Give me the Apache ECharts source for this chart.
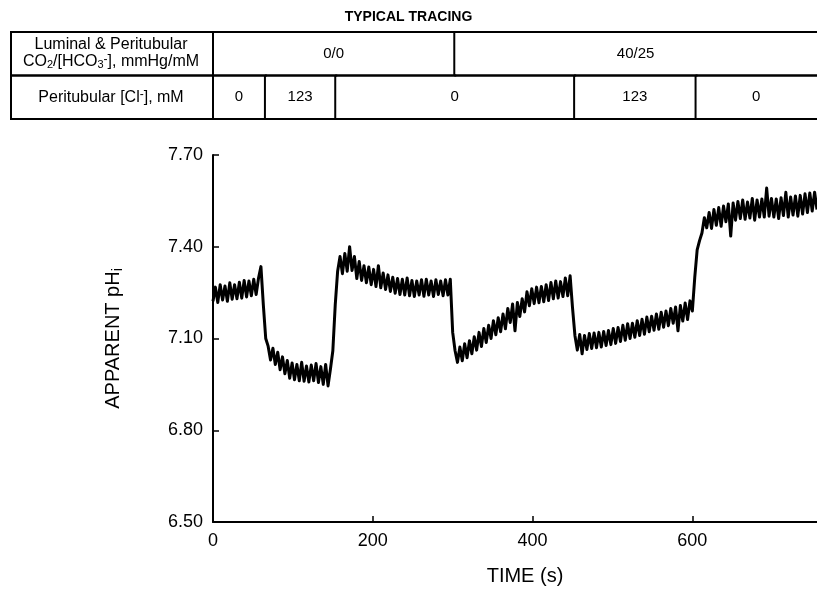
<!DOCTYPE html>
<html>
<head>
<meta charset="utf-8">
<title>Typical tracing</title>
<script src="https://cdn.jsdelivr.net/npm/echarts@6/dist/echarts.min.js"></script>
<style>
  html, body { margin: 0; padding: 0; background: #fff; }
  #main { width: 817px; height: 589px; }
</style>
</head>
<body>
<div id="main"></div>
<script>
// axis ticks
var xTicks = [0, 200, 400, 600];
var yTicks = [6.5, 6.8, 7.1, 7.4, 7.7];
var timeMax = 756;
var sampleStep = 3; // seconds between trace samples

// apparent pHi read off the tracing (upper and lower edge of the noise band
// alternately), one value every 3 s starting at 0 s
var phTrace = [
  // 0 - 57 s
  7.222, 7.268, 7.218, 7.276, 7.226, 7.272, 7.222, 7.282, 7.228, 7.276,
  7.230, 7.284, 7.232, 7.290, 7.236, 7.288, 7.240, 7.294, 7.244, 7.298,
  // 60 - 147 s
  7.335, 7.210, 7.100, 7.075, 7.030, 7.068, 7.015, 7.055, 6.998, 7.040,
  6.985, 7.028, 6.970, 7.020, 6.965, 7.015, 6.962, 7.022, 6.960, 7.010,
  6.958, 7.013, 6.962, 7.018, 6.956, 7.008, 6.950, 7.015, 6.945, 7.000,
  // 150 - 297 s
  7.060, 7.210, 7.320, 7.368, 7.312, 7.378, 7.320, 7.400, 7.322, 7.368,
  7.296, 7.352, 7.290, 7.338, 7.282, 7.334, 7.276, 7.326, 7.270, 7.338,
  7.266, 7.314, 7.260, 7.308, 7.254, 7.300, 7.248, 7.296, 7.244, 7.294,
  7.242, 7.298, 7.240, 7.290, 7.237, 7.288, 7.242, 7.292, 7.238, 7.294,
  7.242, 7.288, 7.237, 7.292, 7.244, 7.288, 7.240, 7.292, 7.242, 7.294,
  // 300 - 447 s
  7.120, 7.060, 7.022, 7.072, 7.027, 7.083, 7.037, 7.093, 7.050, 7.106,
  7.062, 7.120, 7.074, 7.133, 7.087, 7.143, 7.100, 7.158, 7.112, 7.168,
  7.122, 7.180, 7.132, 7.198, 7.152, 7.213, 7.125, 7.218, 7.172, 7.230,
  7.187, 7.253, 7.207, 7.263, 7.214, 7.268, 7.217, 7.270, 7.220, 7.276,
  7.224, 7.283, 7.230, 7.288, 7.232, 7.286, 7.237, 7.298, 7.240, 7.305,
  // 450 - 600 s
  7.200, 7.110, 7.062, 7.113, 7.050, 7.110, 7.064, 7.116, 7.067, 7.118,
  7.070, 7.120, 7.072, 7.123, 7.077, 7.126, 7.080, 7.133, 7.084, 7.136,
  7.090, 7.143, 7.094, 7.148, 7.100, 7.150, 7.104, 7.158, 7.110, 7.163,
  7.114, 7.170, 7.122, 7.173, 7.127, 7.180, 7.130, 7.186, 7.137, 7.190,
  7.142, 7.198, 7.150, 7.203, 7.125, 7.208, 7.157, 7.216, 7.162, 7.223,
  7.190,
  // 603 - 756 s
  7.300, 7.390, 7.420, 7.445, 7.495, 7.462, 7.512, 7.460, 7.522, 7.470,
  7.528, 7.467, 7.533, 7.482, 7.540, 7.435, 7.543, 7.487, 7.548, 7.492,
  7.553, 7.490, 7.546, 7.494, 7.558, 7.487, 7.553, 7.497, 7.556, 7.497,
  7.592, 7.500, 7.558, 7.497, 7.556, 7.492, 7.560, 7.502, 7.578, 7.497,
  7.563, 7.504, 7.566, 7.500, 7.568, 7.507, 7.573, 7.512, 7.576, 7.517,
  7.578, 7.522
];

// solution table above the trace, boundaries in seconds
var co2Starts = [0, 302];
var co2Ends = [302, 756];
var co2Labels = ['0/0', '40/25'];
var clStarts = [0, 65, 153, 452, 604];
var clEnds = [65, 153, 452, 604, 756];
var clLabels = ['0', '123', '0', '123', '0'];

var fontFamily = 'Liberation Sans, Arial, Helvetica, sans-serif';

var traceData = phTrace.map(function (v, i) {
  return [i * sampleStep, v];
});

var cellData = [];
var cellLabels = [];
co2Starts.forEach(function (s, i) {
  cellData.push([s, co2Ends[i], 0]);
  cellLabels.push(co2Labels[i]);
});
clStarts.forEach(function (s, i) {
  cellData.push([s, clEnds[i], 1]);
  cellLabels.push(clLabels[i]);
});

function border() {
  return { stroke: '#000', lineWidth: 2, fill: 'none' };
}

function renderCell(params, api) {
  var row = api.value(2);
  var a = api.coord([api.value(0), row]);
  var b = api.coord([api.value(1), row]);
  var h = api.size([0, 1])[1];
  var top = a[1] - h / 2;
  var bottom = a[1] + h / 2;
  return {
    type: 'group',
    children: [
      { type: 'line', shape: { x1: a[0], y1: top, x2: a[0], y2: bottom }, style: border() },
      { type: 'line', shape: { x1: a[0], y1: top, x2: b[0] + 2, y2: top }, style: border() },
      { type: 'line', shape: { x1: a[0], y1: bottom, x2: b[0] + 2, y2: bottom }, style: border() },
      {
        type: 'text', x: (a[0] + b[0]) / 2, y: a[1],
        style: {
          text: cellLabels[params.dataIndex], align: 'center', verticalAlign: 'middle',
          fontSize: 15, fontFamily: fontFamily, fill: '#000'
        }
      }
    ]
  };
}

var subRich = {
  n: { fontSize: 16, lineHeight: 17, fontFamily: fontFamily, color: '#000' },
  sub: { fontSize: 11, lineHeight: 11, verticalAlign: 'bottom', fontFamily: fontFamily, color: '#000' },
  sup: { fontSize: 12, lineHeight: 11, verticalAlign: 'top', fontFamily: fontFamily, color: '#000' }
};

var myChart = echarts.init(document.getElementById('main'));

myChart.setOption({
  animation: false,
  backgroundColor: '#fff',
  title: {
    text: 'TYPICAL TRACING',
    left: 'center',
    top: 5,
    textStyle: { fontSize: 14, fontWeight: 'bold', color: '#000', fontFamily: fontFamily }
  },
  grid: [
    { left: 213, right: 0, top: 155, bottom: 67, outerBoundsMode: 'none' },
    { left: 213, right: 0, top: 32, height: 87, outerBoundsMode: 'none' }
  ],
  xAxis: [{
    type: 'value',
    gridIndex: 0,
    min: 0,
    max: timeMax,
    name: 'TIME (s)',
    nameLocation: 'middle',
    nameGap: 44,
    nameTextStyle: { fontSize: 20, color: '#000', fontFamily: fontFamily, padding: [0, 0, 0, 20] },
    axisLine: { show: true, onZero: false, lineStyle: { color: '#000', width: 2 } },
    axisTick: { show: true, inside: true, length: 6, customValues: xTicks, lineStyle: { color: '#000', width: 1.5 } },
    axisLabel: { customValues: xTicks, fontSize: 18, color: '#000', margin: 10, fontFamily: fontFamily },
    splitLine: { show: false }
  }, {
    type: 'value',
    gridIndex: 1,
    min: 0,
    max: timeMax,
    show: false
  }],
  yAxis: [{
    type: 'value',
    gridIndex: 0,
    min: 6.5,
    max: 7.7,
    name: '{n|APPARENT pH}{s|i}',
    nameLocation: 'middle',
    nameGap: 88,
    nameTextStyle: {
      rich: {
        n: { fontSize: 20, lineHeight: 24, color: '#000', fontFamily: fontFamily },
        s: { fontSize: 14, lineHeight: 14, verticalAlign: 'bottom', color: '#000', fontFamily: fontFamily }
      }
    },
    axisLine: { show: true, onZero: false, lineStyle: { color: '#000', width: 2 } },
    axisTick: { show: true, inside: true, length: 6, customValues: yTicks, lineStyle: { color: '#000', width: 1.5 } },
    axisLabel: {
      customValues: yTicks,
      formatter: function (v) { return v.toFixed(2); },
      fontSize: 18, color: '#000', margin: 10, fontFamily: fontFamily
    },
    splitLine: { show: false }
  }, {
    type: 'category',
    gridIndex: 1,
    data: ['co2', 'cl'],
    inverse: true,
    show: false
  }],
  graphic: [
    { type: 'rect', shape: { x: 11, y: 32, width: 202, height: 43.5 }, style: border() },
    { type: 'rect', shape: { x: 11, y: 75.5, width: 202, height: 43.5 }, style: border() },
    {
      type: 'text', x: 111, y: 53.5,
      style: {
        text: '{n|Luminal & Peritubular}\n{n|CO}{sub|2}{n|/[HCO}{sub|3}{sup|-}{n|], mmHg/mM}',
        rich: subRich, align: 'center', verticalAlign: 'middle'
      }
    },
    {
      type: 'text', x: 111, y: 97.5,
      style: {
        text: '{n|Peritubular [Cl}{sup|-}{n|], mM}',
        rich: subRich, align: 'center', verticalAlign: 'middle'
      }
    }
  ],
  series: [{
    type: 'line',
    xAxisIndex: 0,
    yAxisIndex: 0,
    data: traceData,
    showSymbol: false,
    symbol: 'none',
    sampling: 'none',
    lineStyle: { color: '#000', width: 3, join: 'round' },
    z: 5
  }, {
    type: 'custom',
    xAxisIndex: 1,
    yAxisIndex: 1,
    coordinateSystem: 'cartesian2d',
    clip: false,
    silent: true,
    renderItem: renderCell,
    encode: { x: [0, 1], y: 2 },
    data: cellData
  }]
});
</script>
</body>
</html>
